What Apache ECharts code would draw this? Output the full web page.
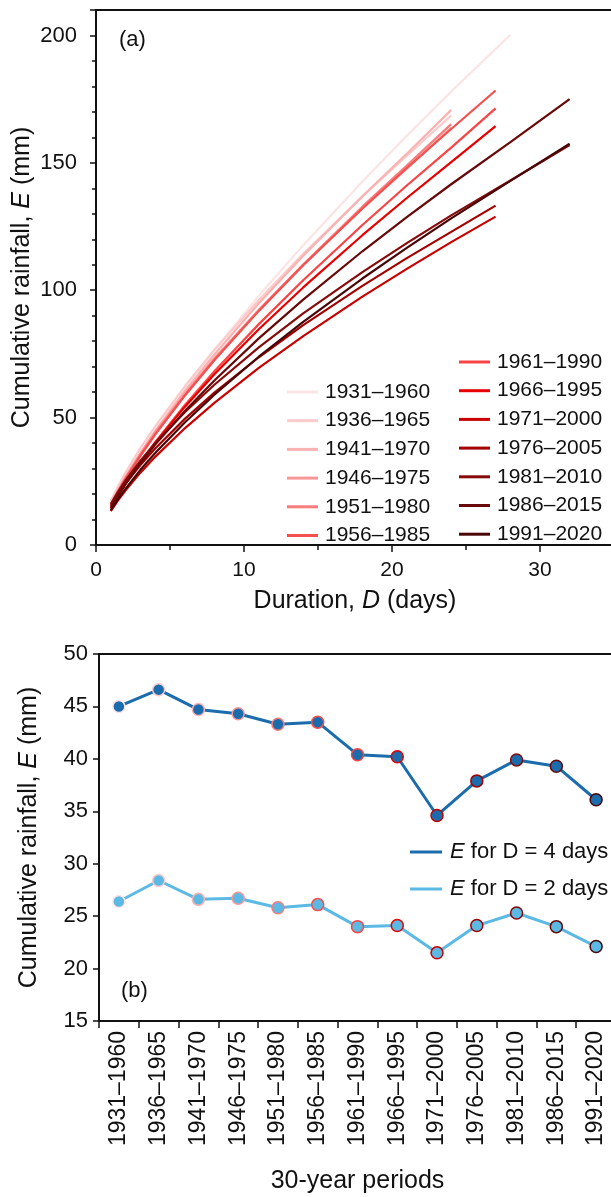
<!DOCTYPE html>
<html><head><meta charset="utf-8">
<script src="https://cdn.jsdelivr.net/npm/echarts@6/dist/echarts.min.js"></script>
<style>html,body{margin:0;padding:0;background:#fff}#c{width:611px;height:1197px}</style>
</head><body><div id="c"></div>
<script>
// ---------- data ----------
const periods = ['1931–1960','1936–1965','1941–1970','1946–1975','1951–1980','1956–1985','1961–1990',
  '1966–1995','1971–2000','1976–2005','1981–2010','1986–2015','1991–2020'];

// durations (days) at which each curve of panel (a) is read
const D_24 = [1, 1.5, 2, 3, 4, 6, 8, 11, 14, 18, 21, 24];
const D_27 = [1, 1.5, 2, 3, 4, 6, 8, 11, 14, 18, 21, 24, 27];
const D_28 = [1, 1.5, 2, 3, 4, 6, 8, 11, 14, 18, 21, 24, 28];
const D_32 = [1, 1.5, 2, 3, 4, 6, 8, 11, 14, 18, 21, 24, 28, 32];

// cumulative rainfall E (mm) of each 30-year period, panel (a)
const E_1931 = [15.6, 21.2, 26.5, 36.1, 45.0, 61.5, 76.6, 97.8, 117.7, 142.7, 160.6, 178.0, 200.3];
const E_1936 = [17.3, 23.1, 28.4, 38.0, 46.6, 62.3, 76.6, 96.2, 114.3, 136.8, 152.8, 168.6];
const E_1941 = [15.9, 21.5, 26.7, 36.0, 44.7, 60.4, 74.8, 94.9, 113.5, 136.9, 153.6, 170.8];
const E_1946 = [16.2, 21.7, 26.8, 35.9, 44.3, 59.4, 73.3, 92.3, 110.0, 132.1, 147.7, 163.8];
const E_1951 = [15.4, 20.8, 25.8, 34.9, 43.3, 58.6, 72.6, 92.0, 110.1, 132.8, 148.9, 165.2];
const E_1956 = [15.7, 21.1, 26.1, 35.2, 43.5, 58.7, 72.6, 91.9, 109.8, 132.1, 148.0, 163.3, 178.4];
const E_1961 = [14.2, 19.3, 24.0, 32.5, 40.4, 54.9, 68.2, 86.7, 103.9, 125.6, 141.1, 156.0, 171.4];
const E_1966 = [14.5, 19.5, 24.1, 32.5, 40.2, 54.2, 67.0, 84.7, 101.1, 121.6, 136.2, 150.3, 164.4];
const E_1971 = [13.3, 17.6, 21.5, 28.4, 34.6, 45.8, 55.8, 69.5, 82.0, 97.5, 108.4, 118.9, 128.9];
const E_1976 = [15.3, 19.9, 24.1, 31.4, 37.9, 49.5, 59.8, 73.7, 86.3, 101.7, 112.6, 122.9, 133.2];
const E_1981 = [16.1, 21.0, 25.4, 33.1, 39.9, 52.1, 62.9, 77.6, 90.9, 107.1, 118.5, 129.4, 143.1, 157.0];
const E_1986 = [14.6, 19.5, 24.0, 32.0, 39.4, 52.6, 64.6, 81.1, 96.3, 115.3, 128.7, 141.6, 158.1, 175.0];
const E_1991 = [13.6, 18.1, 22.1, 29.5, 36.1, 48.1, 59.0, 73.9, 87.6, 104.6, 116.6, 128.2, 142.9, 157.5];

const curveD = [D_28, D_24, D_24, D_24, D_24, D_27, D_27, D_27, D_27, D_27, D_32, D_32, D_32];
const curveE = [E_1931, E_1936, E_1941, E_1946, E_1951, E_1956, E_1961, E_1966, E_1971, E_1976, E_1981, E_1986, E_1991];

// panel (b): E for D = 4 days and D = 2 days
const E_D4 = [45.0, 46.6, 44.7, 44.3, 43.3, 43.5, 40.4, 40.2, 34.6, 37.9, 39.9, 39.3, 36.1];
const E_D2 = [26.4, 28.4, 26.6, 26.7, 25.8, 26.1, 24.0, 24.1, 21.5, 24.1, 25.3, 24.0, 22.1];

const yTicksA = [0, 50, 100, 150, 200];
const yTicksB = [15, 20, 25, 30, 35, 40, 45, 50];

// ---------- style ----------
const palette = ['#fde4e4','#fccaca','#fbb1b1','#f99797','#f77c7c','#f45050','#f84444',
  '#e60000','#c80000','#a30000','#860a0a','#680808','#480606'];
const FONT = "'Liberation Sans', Arial, sans-serif";
const INK = '#111';

const chart = echarts.init(document.getElementById('c'), null, {renderer: 'canvas'});

const seriesA = periods.map((p, i) => ({
  name: p, type: 'line', xAxisIndex: 0, yAxisIndex: 0,
  data: curveD[i].map((d, j) => [d, curveE[i][j]]),
  smooth: false, symbol: 'none', showSymbol: false,
  lineStyle: {color: palette[i], width: 2.2, join: 'round'}, itemStyle: {color: palette[i]},
  emphasis: {disabled: true}, animation: false
}));

function markerData(vals) {
  return vals.map((v, i) => ({value: v, itemStyle: {borderColor: palette[i]}}));
}

const axisCommon = {
  axisLine: {show: true, lineStyle: {color: INK, width: 2}},
  axisTick: {show: true, inside: false, lineStyle: {color: INK, width: 1.5}},
  splitLine: {show: false},
  nameMoveOverlap: false
};

const nameRich = (size) => ({
  t: {fontSize: size, fontFamily: FONT, color: INK},
  i: {fontSize: size, fontFamily: FONT, color: INK, fontStyle: 'italic'}
});

const option = {
  animation: false,
  backgroundColor: '#fff',
  textStyle: {fontFamily: FONT},
  title: [
    {text: '(a)', left: 114, top: 24, textStyle: {fontSize: 22, fontWeight: 'normal', color: INK, fontFamily: FONT}},
    {text: '(b)', left: 116, top: 975, textStyle: {fontSize: 22, fontWeight: 'normal', color: INK, fontFamily: FONT}}
  ],
  grid: [
    {left: 96, top: 10, right: -3, bottom: 652, show: true, borderColor: INK, borderWidth: 2, containLabel: false, outerBoundsMode: 'none'},
    {left: 99, top: 654, right: -5, bottom: 176, show: true, borderColor: INK, borderWidth: 2, containLabel: false, outerBoundsMode: 'none'}
  ],
  legend: [
    {data: periods.slice(0, 6), orient: 'vertical', left: 282, top: 376, itemWidth: 31, itemHeight: 3, icon: 'rect',
     itemGap: 6.7, selectedMode: false, textStyle: {fontSize: 21, color: INK, fontFamily: FONT, lineHeight: 22, padding: [0,0,0,2]}},
    {data: periods.slice(6), orient: 'vertical', left: 454, top: 346, itemWidth: 31, itemHeight: 3, icon: 'rect',
     itemGap: 6.7, selectedMode: false, textStyle: {fontSize: 21, color: INK, fontFamily: FONT, lineHeight: 22, padding: [0,0,0,2]}},
    {data: ['E4', 'E2'], orient: 'vertical', left: 405, top: 836, itemWidth: 32, itemHeight: 3, icon: 'rect',
     itemGap: 15, selectedMode: false,
     formatter: (n) => n === 'E4' ? '{i|E}{t| for D = 4 days}' : '{i|E}{t| for D = 2 days}',
     textStyle: {fontSize: 22, color: INK, fontFamily: FONT, lineHeight: 22, padding: [0,0,0,3], rich: nameRich(22)}}
  ],
  xAxis: [
    Object.assign({}, axisCommon, {
      gridIndex: 0, type: 'value', min: 0, max: 35, interval: 10,
      axisTick: {show: true, length: 7, lineStyle: {color: INK, width: 1.5}},
      minorTick: {show: true, splitNumber: 2, length: 5, lineStyle: {color: INK, width: 1.5}},
      axisLabel: {fontSize: 21, color: INK, fontFamily: FONT, margin: 15, showMaxLabel: false},
      name: '{t|Duration, }{i|D}{t| (days)}', nameLocation: 'middle', nameGap: 44,
      nameTextStyle: {rich: nameRich(25)}
    }),
    Object.assign({}, axisCommon, {
      gridIndex: 1, type: 'category', data: periods, boundaryGap: true,
      axisTick: {show: true, length: 7, alignWithLabel: false, interval: 0, lineStyle: {color: INK, width: 1.5}},
      axisLabel: {fontSize: 23, color: INK, fontFamily: FONT, rotate: 90, margin: 10, interval: 0},
      name: '30-year periods', nameLocation: 'middle', nameGap: 148,
      nameTextStyle: {fontSize: 25, color: INK, fontFamily: FONT}
    })
  ],
  yAxis: [
    Object.assign({}, axisCommon, {
      gridIndex: 0, type: 'value', min: 0, max: 210, interval: 50,
      axisTick: {show: true, length: 6, lineStyle: {color: INK, width: 1.5}},
      minorTick: {show: true, splitNumber: 5, length: 4, lineStyle: {color: INK, width: 1.5}},
      axisLabel: {fontSize: 22, color: INK, fontFamily: FONT, margin: 19, showMaxLabel: false,
        formatter: (v) => yTicksA.includes(v) ? String(v) : ''},
      name: '{t|Cumulative rainfall, }{i|E}{t| (mm)}', nameLocation: 'middle', nameGap: 61,
      nameTextStyle: {rich: nameRich(25)}
    }),
    Object.assign({}, axisCommon, {
      gridIndex: 1, type: 'value', min: 15, max: 50, interval: 5,
      axisTick: {show: true, length: 6, lineStyle: {color: INK, width: 1.5}},
      axisLabel: {fontSize: 22, color: INK, fontFamily: FONT, margin: 11,
        formatter: (v) => yTicksB.includes(v) ? String(v) : ''},
      name: '{t|Cumulative rainfall, }{i|E}{t| (mm)}', nameLocation: 'middle', nameGap: 57,
      nameTextStyle: {rich: nameRich(25)}
    })
  ],
  series: seriesA.concat([
    {name: 'E4', type: 'line', xAxisIndex: 1, yAxisIndex: 1, data: markerData(E_D4),
     symbol: 'circle', symbolSize: 12, lineStyle: {color: '#1a6cad', width: 3},
     itemStyle: {color: '#1a6cad', borderWidth: 1.5}, emphasis: {disabled: true}},
    {name: 'E2', type: 'line', xAxisIndex: 1, yAxisIndex: 1, data: markerData(E_D2),
     symbol: 'circle', symbolSize: 12, lineStyle: {color: '#5bb9e4', width: 3},
     itemStyle: {color: '#5bb9e4', borderWidth: 1.5}, emphasis: {disabled: true}}
  ])
};
chart.setOption(option);
</script>
</body></html>
